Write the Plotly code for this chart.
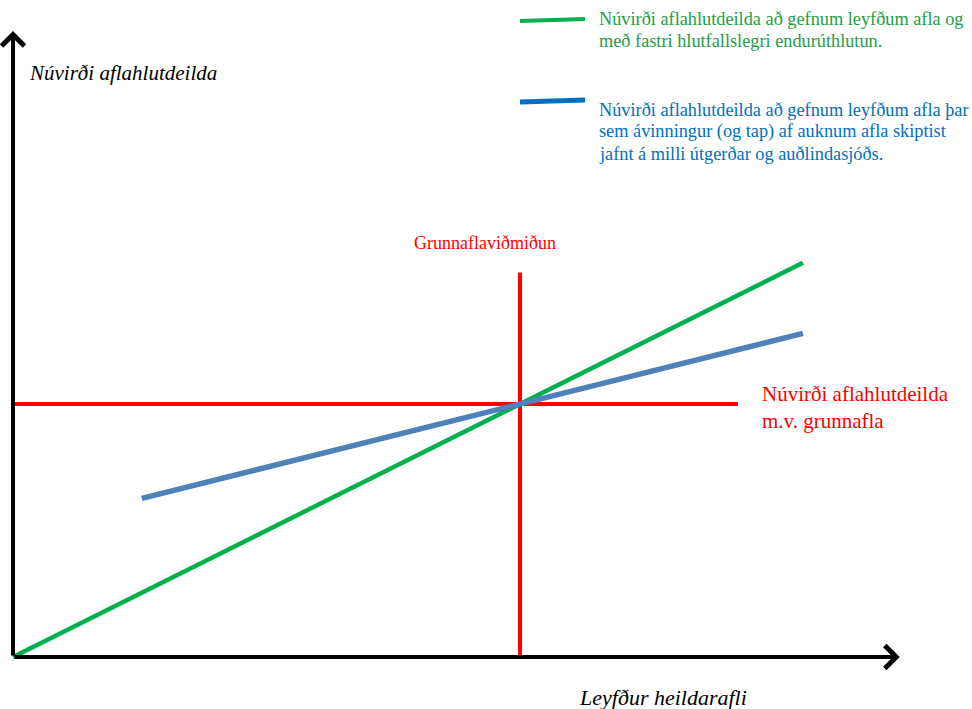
import plotly.graph_objects as go

# Conceptual units: base catch (grunnafli) = 1, NPV at base catch = 1
green_x = [0.0, 1.558]
green_y = [0.0, 1.558]          # fixed proportional reallocation: y = x
blue_x = [0.254, 1.558]
blue_y = [0.627, 1.279]         # gains/losses split equally: y = 0.5 + 0.5x
red_h_x = [0.0, 1.43]
red_h_y = [1.0, 1.0]
red_v_x = [1.0, 1.0]
red_v_y = [0.0, 1.52]
axis_x_end = 1.749
axis_y_end = 2.474

green_legend_lines = ["Núvirði aflahlutdeilda að gefnum leyfðum afla og",
                      "með fastri hlutfallslegri endurúthlutun."]
blue_legend_lines = ["Núvirði aflahlutdeilda að gefnum leyfðum afla þar",
                     "sem ávinningur (og tap) af auknum afla skiptist",
                     "jafnt á milli útgerðar og auðlindasjóðs."]

GREEN = "#00B050"
BLUE_LINE = "#4F81BD"
BLUE_TXT = "#0070C0"
RED = "#FF0000"
FONT = "'Liberation Serif', 'Times New Roman', 'DejaVu Serif', serif"

fig = go.Figure()
fig.add_trace(go.Scatter(x=red_h_x, y=red_h_y, mode="lines", line=dict(color=RED, width=4), showlegend=False, hoverinfo="skip"))
fig.add_trace(go.Scatter(x=red_v_x, y=red_v_y, mode="lines", line=dict(color=RED, width=4), showlegend=False, hoverinfo="skip"))
fig.add_trace(go.Scatter(x=green_x, y=green_y, mode="lines", line=dict(color=GREEN, width=4.5), showlegend=False, hoverinfo="skip"))
fig.add_trace(go.Scatter(x=blue_x, y=blue_y, mode="lines", line=dict(color=BLUE_LINE, width=5.5), showlegend=False, hoverinfo="skip"))

# axes with arrows
for (x, y) in [(axis_x_end, 0.0), (0.0, axis_y_end)]:
    fig.add_annotation(x=x, y=y, ax=0, ay=0, xref="x", yref="y", axref="x", ayref="y",
                       text="", showarrow=True, arrowhead=4, arrowsize=1.1, arrowwidth=4,
                       arrowcolor="black", standoff=0)

# texts
fig.add_annotation(x=27, y=73, xref="paper", yref="paper", text="<i>Núvirði aflahlutdeilda</i>",
                   showarrow=False, xanchor="left", yanchor="middle",
                   font=dict(family=FONT, size=21, color="black"))
fig.add_annotation(x=663, y=697, xref="paper", yref="paper", text="<i>Leyfður heildarafli</i>",
                   showarrow=False, xanchor="center", yanchor="middle",
                   font=dict(family=FONT, size=22, color="black"))
fig.add_annotation(x=485, y=243, xref="paper", yref="paper", text="Grunnaflaviðmiðun",
                   showarrow=False, xanchor="center", yanchor="middle",
                   font=dict(family=FONT, size=18, color=RED))
fig.add_annotation(x=760, y=407, xref="paper", yref="paper", text="Núvirði aflahlutdeilda<br>m.v. grunnafla",
                   showarrow=False, xanchor="left", yanchor="middle", align="left",
                   font=dict(family=FONT, size=21, color=RED))
for i, line in enumerate(green_legend_lines):
    fig.add_annotation(x=597, y=19 + 22 * i, xref="paper", yref="paper", text=line,
                       showarrow=False, xanchor="left", yanchor="middle", align="left",
                       font=dict(family=FONT, size=18.3, color="#1E9E48"))
for i, line in enumerate(blue_legend_lines):
    fig.add_annotation(x=597, y=110 + 22 * i, xref="paper", yref="paper", text=line,
                       showarrow=False, xanchor="left", yanchor="middle", align="left",
                       font=dict(family=FONT, size=18.3, color=BLUE_TXT))

# legend line samples
fig.add_shape(type="line", xref="paper", yref="paper", x0=520, x1=585, y0=21, y1=19,
              line=dict(color=GREEN, width=4))
fig.add_shape(type="line", xref="paper", yref="paper", x0=520, x1=585, y0=102, y1=100,
              line=dict(color="#0070C0", width=5))

x0p, y0p, ux, uy = 13, 657, 507, 253
fig.update_layout(
    width=972, height=709,
    margin=dict(l=0, r=0, t=0, b=0),
    paper_bgcolor="white", plot_bgcolor="white",
    font=dict(family=FONT),
    xaxis=dict(range=[-x0p / ux, (972 - x0p) / ux], visible=False, fixedrange=True),
    yaxis=dict(range=[(y0p - 709) / uy, y0p / uy], visible=False, fixedrange=True),
    showlegend=False,
)
# convert paper-pixel positions for annotations/shapes
for a in fig.layout.annotations:
    if a.xref == "paper":
        a.x = a.x / 972
        a.y = 1 - a.y / 709
for s in fig.layout.shapes:
    s.x0 = s.x0 / 972
    s.x1 = s.x1 / 972
    s.y0 = 1 - s.y0 / 709
    s.y1 = 1 - s.y1 / 709

fig.write_html("out.html", config={"displayModeBar": False},
               post_script="document.body.style.margin='0';document.body.style.overflow='hidden';")
